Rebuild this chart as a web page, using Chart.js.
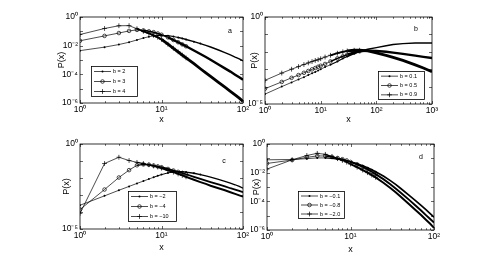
<!DOCTYPE html>
<html>
<head>
<meta charset="utf-8">
<script src="https://cdn.jsdelivr.net/npm/chart.js@4.4.1/dist/chart.umd.min.js"></script>
<style>
  html, body { margin: 0; padding: 0; background: #fff; }
  #wrap { position: relative; width: 496px; height: 263px; }
  #wrap canvas { position: absolute; left: 0; top: 0; }
</style>
</head>
<body>
<div id="wrap">
  <canvas id="panelA" width="496" height="263"></canvas>
  <canvas id="panelB" width="496" height="263"></canvas>
  <canvas id="panelC" width="496" height="263"></canvas>
  <canvas id="panelD" width="496" height="263"></canvas>
</div>
<script>
// x values (1..100 panels and the 1..1000 panel)
const xShort = [1, 2, 3, 4, 5, 6, 7, 8, 9, 10, 12, 14, 16, 18, 20, 25, 30, 35, 40, 50, 60, 70, 80, 90, 100];
const xLong = [1, 2, 3, 4, 5, 6, 7, 8, 9, 10, 12, 15, 20, 25, 30, 40, 50, 70, 100, 150, 200, 300, 500, 700, 1000];

// panel a
const aB2 = [4.5e-3, 7.9e-3, 1.2e-2, 1.74e-2, 2.5e-2, 3.4e-2, 4.2e-2, 4.8e-2, 5.1e-2, 5.2e-2, 5.0e-2, 4.4e-2, 3.7e-2, 3.2e-2, 2.7e-2, 1.9e-2, 1.4e-2, 1.05e-2, 8.1e-3, 5.0e-3, 3.3e-3, 2.3e-3, 1.6e-3, 1.2e-3, 8.7e-4];
const aB3 = [2.2e-2, 4.8e-2, 7.6e-2, 0.107, 0.126, 0.117, 0.1, 8.7e-2, 7.1e-2, 5.8e-2, 3.8e-2, 2.5e-2, 1.74e-2, 1.23e-2, 9.1e-3, 4.6e-3, 2.6e-3, 1.6e-3, 1.05e-3, 4.9e-4, 2.6e-4, 1.55e-4, 9.5e-5, 6.2e-5, 4.2e-5];
const aB4 = [6.0e-2, 0.158, 0.245, 0.25, 0.151, 0.1, 7.2e-2, 5.2e-2, 3.8e-2, 2.75e-2, 1.26e-2, 6.6e-3, 3.7e-3, 2.2e-3, 1.4e-3, 5.5e-4, 2.45e-4, 1.26e-4, 7.1e-5, 2.75e-5, 1.26e-5, 6.6e-6, 3.7e-6, 2.2e-6, 1.3e-6];

// panel b
const bB01 = [3.7e-5, 1.0e-4, 1.74e-4, 2.6e-4, 3.5e-4, 4.6e-4, 5.8e-4, 6.9e-4, 8.3e-4, 1.0e-3, 1.32e-3, 1.8e-3, 2.8e-3, 4.1e-3, 5.4e-3, 7.9e-3, 1.05e-2, 1.4e-2, 1.74e-2, 2.2e-2, 2.6e-2, 2.95e-2, 3.2e-2, 3.2e-2, 3.2e-2];
const bB05 = [7.6e-5, 1.86e-4, 3.2e-4, 4.6e-4, 6.2e-4, 7.9e-4, 9.8e-4, 1.17e-3, 1.38e-3, 1.58e-3, 2.0e-3, 2.8e-3, 4.2e-3, 5.5e-3, 6.8e-3, 9.1e-3, 1.07e-2, 1.17e-2, 1.12e-2, 1.0e-2, 8.9e-3, 7.6e-3, 6.0e-3, 5.1e-3, 4.4e-3];
const bB09 = [2.3e-4, 6.0e-4, 1.0e-3, 1.41e-3, 1.86e-3, 2.3e-3, 2.75e-3, 3.2e-3, 3.5e-3, 4.0e-3, 5.0e-3, 6.3e-3, 8.3e-3, 1.0e-2, 1.12e-2, 1.23e-2, 1.23e-2, 1.12e-2, 8.7e-3, 6.3e-3, 4.8e-3, 3.2e-3, 1.78e-3, 1.17e-3, 7.1e-4];

// panel c
const cBm2 = [2.5e-4, 8.9e-4, 1.9e-3, 3.2e-3, 4.8e-3, 6.6e-3, 8.7e-3, 1.1e-2, 1.35e-2, 1.58e-2, 2.0e-2, 2.24e-2, 2.35e-2, 2.35e-2, 2.24e-2, 1.9e-2, 1.58e-2, 1.32e-2, 1.12e-2, 8.3e-3, 6.3e-3, 5.0e-3, 4.0e-3, 3.2e-3, 2.5e-3];
const cBm4 = [1.4e-4, 2.1e-3, 1.07e-2, 2.9e-2, 5.6e-2, 6.3e-2, 6.0e-2, 5.4e-2, 4.8e-2, 4.3e-2, 3.4e-2, 2.75e-2, 2.3e-2, 1.95e-2, 1.66e-2, 1.17e-2, 8.9e-3, 7.1e-3, 5.8e-3, 4.2e-3, 3.2e-3, 2.5e-3, 2.1e-3, 1.74e-3, 1.45e-3];
const cBm10 = [8.3e-5, 7.1e-2, 0.166, 0.107, 8.3e-2, 7.1e-2, 6.0e-2, 5.1e-2, 4.4e-2, 3.8e-2, 2.8e-2, 2.2e-2, 1.74e-2, 1.41e-2, 1.17e-2, 7.9e-3, 5.8e-3, 4.5e-3, 3.5e-3, 2.5e-3, 1.9e-3, 1.45e-3, 1.15e-3, 9.5e-4, 8.0e-4];

// panel d
const dBm01 = [7.9e-2, 8.3e-2, 9.5e-2, 0.107, 0.107, 0.1, 8.7e-2, 7.6e-2, 6.6e-2, 5.6e-2, 4.2e-2, 3.0e-2, 2.2e-2, 1.58e-2, 1.17e-2, 5.6e-3, 2.8e-3, 1.48e-3, 7.9e-4, 2.75e-4, 1.12e-4, 5.2e-5, 2.6e-5, 1.41e-5, 7.9e-6];
const dBm08 = [4.4e-2, 7.6e-2, 0.117, 0.148, 0.145, 0.126, 0.105, 8.7e-2, 7.2e-2, 5.6e-2, 3.8e-2, 2.5e-2, 1.7e-2, 1.15e-2, 7.9e-3, 3.4e-3, 1.55e-3, 7.6e-4, 4.0e-4, 1.32e-4, 5.1e-5, 2.3e-5, 1.1e-5, 5.8e-6, 3.3e-6];
const dBm20 = [1.78e-2, 7.9e-2, 0.158, 0.224, 0.19, 0.132, 9.5e-2, 7.1e-2, 5.4e-2, 4.0e-2, 2.4e-2, 1.51e-2, 1.0e-2, 6.8e-3, 4.7e-3, 1.9e-3, 8.5e-4, 4.2e-4, 2.1e-4, 6.6e-5, 2.5e-5, 1.1e-5, 5.2e-6, 2.7e-6, 1.41e-6];

// tick labels
const xTicksShort = [1, 10, 100];
const xTicksLong = [1, 10, 100, 1000];
const yTicks6 = [1e-6, 1e-4, 1e-2, 1];
const yTicks5 = [1e-5, 1];

const FONT = "'Liberation Sans', Arial, Helvetica, sans-serif";
const SUP = { '0': '\u2070', '1': '\u00b9', '2': '\u00b2', '3': '\u00b3', '4': '\u2074', '5': '\u2075', '6': '\u2076', '-': '\u207b' };
const LINE_W = 0.7;

function powLabel(v) {
  const e = Math.round(Math.log10(v));
  return '10' + String(e).split('').map(c => SUP[c]).join('');
}

// marker looks
const MARK = {
  dot: { pointStyle: 'circle', radius: 1, fill: '#000', bw: 0 },
  circle: { pointStyle: 'circle', radius: 1.8, fill: 'rgba(0,0,0,0)', bw: 0.7 },
  plus: { pointStyle: 'cross', radius: 2.4, fill: 'rgba(0,0,0,0)', bw: 0.7 }
};

function drawMarker(ctx, kind, x, y) {
  const m = MARK[kind];
  ctx.save();
  ctx.strokeStyle = '#000';
  ctx.fillStyle = '#000';
  ctx.lineWidth = 0.7;
  if (kind === 'dot') {
    ctx.beginPath(); ctx.arc(x, y, m.radius, 0, Math.PI * 2); ctx.fill();
  } else if (kind === 'circle') {
    ctx.beginPath(); ctx.arc(x, y, m.radius, 0, Math.PI * 2); ctx.stroke();
  } else {
    ctx.beginPath();
    ctx.moveTo(x - m.radius, y); ctx.lineTo(x + m.radius, y);
    ctx.moveTo(x, y - m.radius); ctx.lineTo(x, y + m.radius);
    ctx.stroke();
  }
  ctx.restore();
}

// box, inward ticks, panel letter and legend
const framePlugin = {
  id: 'frame',
  afterDraw(chart) {
    const cfg = chart.options.plugins.frame;
    const { ctx, chartArea: a } = chart;
    const xs = chart.scales.x, ys = chart.scales.y;
    ctx.save();
    ctx.strokeStyle = '#000';
    ctx.lineWidth = 0.8;
    ctx.strokeRect(a.left, a.top, a.right - a.left, a.bottom - a.top);

    ctx.lineWidth = 0.6;
    ctx.beginPath();
    for (let k = Math.floor(Math.log10(xs.min)); k <= Math.log10(xs.max); k++) {
      for (let m = 1; m <= 9; m++) {
        const v = m * Math.pow(10, k);
        if (v < xs.min || v > xs.max) continue;
        const px = Math.round(xs.getPixelForValue(v)) + 0.5;
        const len = m === 1 ? 3 : 1.8;
        ctx.moveTo(px, a.bottom); ctx.lineTo(px, a.bottom - len);
        ctx.moveTo(px, a.top); ctx.lineTo(px, a.top + len);
      }
    }
    for (let k = Math.round(Math.log10(ys.min)); k <= Math.round(Math.log10(ys.max)); k++) {
      const py = Math.round(ys.getPixelForValue(Math.pow(10, k))) + 0.5;
      ctx.moveTo(a.left, py); ctx.lineTo(a.left + 3, py);
      ctx.moveTo(a.right, py); ctx.lineTo(a.right - 3, py);
    }
    ctx.stroke();

    ctx.fillStyle = '#000';
    ctx.font = '7px ' + FONT;
    ctx.textAlign = 'center';
    ctx.textBaseline = 'middle';
    ctx.fillText(cfg.letter, cfg.letterPos[0], cfg.letterPos[1]);

    const L = cfg.legend;
    ctx.fillStyle = '#fff';
    ctx.fillRect(L.x, L.y, L.w, L.h);
    ctx.lineWidth = 0.8;
    ctx.strokeRect(L.x + 0.5, L.y + 0.5, L.w, L.h);
    ctx.font = '5.5px ' + FONT;
    ctx.textAlign = 'left';
    chart.data.datasets.forEach((ds, i) => {
      const ry = L.y + L.h * (2 * i + 1) / 6 + 0.5;
      ctx.lineWidth = LINE_W;
      ctx.beginPath();
      ctx.moveTo(L.x + 3, ry); ctx.lineTo(L.x + 20, ry);
      ctx.stroke();
      drawMarker(ctx, ds.markKind, L.x + 11.5, ry);
      ctx.fillStyle = '#000';
      ctx.fillText(ds.label, L.x + 22, ry);
    });
    ctx.restore();
  }
};

function makePanel(id, p) {
  const a = p.area;
  const datasets = p.series.map(s => {
    const m = MARK[s.mark];
    return {
      label: s.label,
      markKind: s.mark,
      data: p.x.map((x, i) => ({ x: x, y: s.y[i] })),
      borderColor: '#000',
      borderWidth: LINE_W,
      fill: false,
      tension: 0,
      pointStyle: m.pointStyle,
      pointRadius: c => (c.raw && c.raw.x > s.thickFrom * 2 ? 0 : m.radius),
      pointBorderWidth: m.bw,
      pointBorderColor: '#000',
      pointBackgroundColor: m.fill,
      segment: {
        borderWidth: c => {
          const x0 = c.p0.parsed.x;
          if (x0 >= s.thickFrom) return s.thickW;
          if (x0 >= s.thickFrom / 2) return (LINE_W + s.thickW) / 2;
          return LINE_W;
        }
      }
    };
  });

  return new Chart(document.getElementById(id), {
    type: 'line',
    data: { datasets: datasets },
    options: {
      responsive: false,
      animation: false,
      events: [],
      layout: {
        autoPadding: false,
        padding: { left: a.l - p.yW, top: a.t, right: 496 - a.r, bottom: 263 - a.b - p.xH }
      },
      plugins: {
        legend: { display: false },
        tooltip: { enabled: false },
        frame: { letter: p.letter, letterPos: p.letterPos, legend: p.legend }
      },
      scales: {
        x: {
          type: 'logarithmic',
          min: p.x[0],
          max: p.x[p.x.length - 1],
          grid: { display: false, drawTicks: false },
          border: { display: false },
          afterBuildTicks: sc => { sc.ticks = p.xTicks.map(v => ({ value: v })); },
          afterFit: sc => { sc.height = p.xH; },
          ticks: {
            autoSkip: false, maxRotation: 0, padding: 1.5, color: '#000',
            font: { family: FONT, size: 8.5 },
            callback: v => powLabel(v)
          },
          title: { display: true, text: 'x', color: '#000', padding: 0, font: { family: FONT, size: 9 } }
        },
        y: {
          type: 'logarithmic',
          min: p.yTicks[0],
          max: p.yTicks[p.yTicks.length - 1],
          grid: { display: false, drawTicks: false },
          border: { display: false },
          afterBuildTicks: sc => { sc.ticks = p.yTicks.map(v => ({ value: v })); },
          afterFit: sc => { sc.width = p.yW; },
          ticks: {
            autoSkip: false, padding: 2, color: '#000',
            font: { family: FONT, size: 8.5 },
            callback: v => powLabel(v)
          },
          title: { display: true, text: 'P(x)', color: '#000', padding: 0, font: { family: FONT, size: 9 } }
        }
      }
    },
    plugins: [framePlugin]
  });
}

makePanel('panelA', {
  area: { l: 80, t: 17, r: 243, b: 103 }, yW: 24, xH: 22,
  x: xShort, xTicks: xTicksShort, yTicks: yTicks6,
  letter: 'a', letterPos: [230, 31],
  legend: { x: 91, y: 66, w: 46, h: 30 },
  series: [
    { label: 'b = 2', y: aB2, mark: 'dot', thickFrom: 15, thickW: 1.4 },
    { label: 'b = 3', y: aB3, mark: 'circle', thickFrom: 12, thickW: 2.4 },
    { label: 'b = 4', y: aB4, mark: 'plus', thickFrom: 10, thickW: 2.8 }
  ]
});

makePanel('panelB', {
  area: { l: 265, t: 17, r: 432, b: 104 }, yW: 16, xH: 21,
  x: xLong, xTicks: xTicksLong, yTicks: yTicks5,
  letter: 'b', letterPos: [416, 29],
  legend: { x: 378, y: 71, w: 46, h: 28 },
  series: [
    { label: 'b = 0.1', y: bB01, mark: 'dot', thickFrom: 30, thickW: 1.5 },
    { label: 'b = 0.5', y: bB05, mark: 'circle', thickFrom: 30, thickW: 2.4 },
    { label: 'b = 0.9', y: bB09, mark: 'plus', thickFrom: 30, thickW: 2.8 }
  ]
});

makePanel('panelC', {
  area: { l: 80, t: 144, r: 243, b: 229 }, yW: 19, xH: 24,
  x: xShort, xTicks: xTicksShort, yTicks: yTicks5,
  letter: 'c', letterPos: [224, 161],
  legend: { x: 128, y: 191, w: 48, h: 30 },
  series: [
    { label: 'b = \u22122', y: cBm2, mark: 'dot', thickFrom: 15, thickW: 1.3 },
    { label: 'b = \u22124', y: cBm4, mark: 'circle', thickFrom: 10, thickW: 1.8 },
    { label: 'b = \u221210', y: cBm10, mark: 'plus', thickFrom: 10, thickW: 1.9 }
  ]
});

makePanel('panelD', {
  area: { l: 267, t: 144, r: 434, b: 230 }, yW: 16, xH: 25,
  x: xShort, xTicks: xTicksShort, yTicks: yTicks6,
  letter: 'd', letterPos: [421, 157],
  legend: { x: 298, y: 191, w: 46, h: 27 },
  series: [
    { label: 'b = \u22120.1', y: dBm01, mark: 'dot', thickFrom: 10, thickW: 1.7 },
    { label: 'b = \u22120.8', y: dBm08, mark: 'circle', thickFrom: 10, thickW: 1.9 },
    { label: 'b = \u22122.0', y: dBm20, mark: 'plus', thickFrom: 10, thickW: 2.0 }
  ]
});
</script>
</body>
</html>
